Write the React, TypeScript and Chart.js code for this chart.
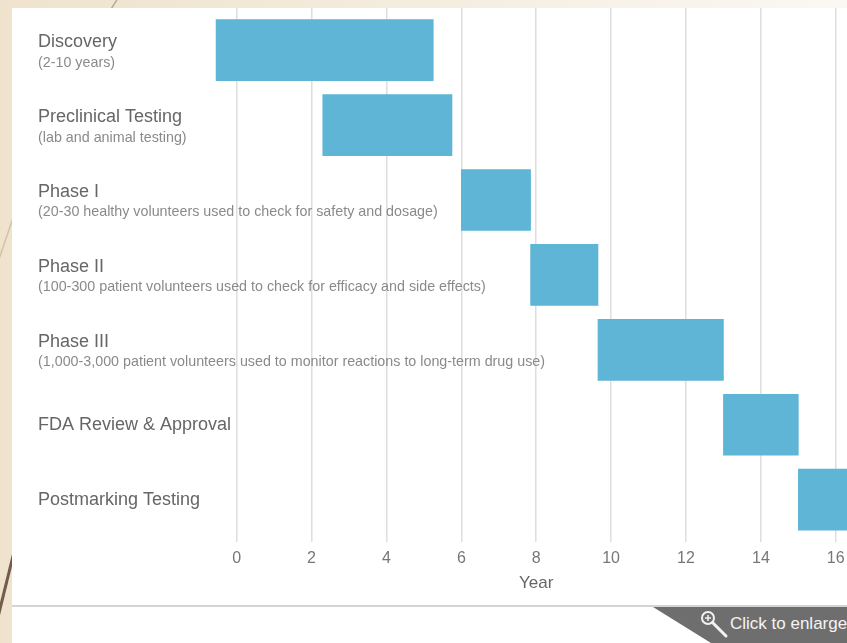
import React, { useEffect, useRef } from "react";
import { Chart, registerables } from "chart.js";

Chart.register(...registerables);

const categories = [
  "Discovery",
  "Preclinical Testing",
  "Phase I",
  "Phase II",
  "Phase III",
  "FDA Review & Approval",
  "Postmarking Testing",
];
const subtitles = [
  "(2-10 years)",
  "(lab and animal testing)",
  "(20-30 healthy volunteers used to check for safety and dosage)",
  "(100-300 patient volunteers used to check for efficacy and side effects)",
  "(1,000-3,000 patient volunteers used to monitor reactions to long-term drug use)",
  "",
  "",
];
const startYears = [-0.55, 2.3, 6.0, 7.85, 9.65, 13.0, 15.0];
const endYears = [5.25, 5.75, 7.85, 9.65, 13.0, 15.0, 17.0];
const xTickValues = [0, 2, 4, 6, 8, 10, 12, 14, 16];
const axisTitle = "Year";

const FONT = '"Liberation Sans", Arial, sans-serif';

const labelPlugin = {
  id: "rowLabels",
  beforeDatasetsDraw(chart: any) {
    const { ctx, chartArea } = chart;
    const y = chart.scales.y;
    ctx.save();
    ctx.textAlign = "left";
    ctx.textBaseline = "middle";
    const x = chartArea.left + 26;
    categories.forEach((c, i) => {
      const yc = y.getPixelForValue(i);
      const sub = subtitles[i];
      ctx.font = `18px ${FONT}`;
      ctx.fillStyle = "#666666";
      if (sub) {
        ctx.fillText(c, x, yc - 8);
        ctx.font = `14.3px ${FONT}`;
        ctx.fillStyle = "#8a8a8a";
        ctx.fillText(sub, x, yc + 12.5);
      } else {
        ctx.fillText(c, x, yc);
      }
    });
    ctx.restore();
  },
  afterDraw(chart: any) {
    const { ctx } = chart;
    const xs = chart.scales.x;
    const first = xs.getPixelForValue(xTickValues[0]);
    const last = xs.getPixelForValue(xTickValues[xTickValues.length - 1]);
    ctx.save();
    ctx.font = `17px ${FONT}`;
    ctx.fillStyle = "#666666";
    ctx.textAlign = "center";
    ctx.textBaseline = "middle";
    ctx.fillText(axisTitle, (first + last) / 2, xs.bottom - 2 - 8.5);
    ctx.restore();
  },
};

function GanttChart() {
  const ref = useRef<HTMLCanvasElement | null>(null);
  useEffect(() => {
    if (!ref.current) return;
    const chart = new Chart(ref.current, {
      type: "bar",
      data: {
        datasets: [
          {
            data: categories.map((c, i) => ({ x: [startYears[i], endYears[i]], y: i })) as any,
            backgroundColor: "#5eb5d6",
            borderWidth: 0,
            borderSkipped: false,
            barThickness: 61,
          },
        ],
      },
      options: {
        indexAxis: "y",
        responsive: false,
        animation: false,
        devicePixelRatio: 1,
        layout: { padding: 0 },
        plugins: {
          legend: { display: false },
          tooltip: { enabled: false },
        },
        scales: {
          y: {
            type: "linear",
            display: false,
            reverse: true,
            offset: false,
            grid: { offset: false },
            min: -0.5625,
            max: 6.5625,
            ticks: { stepSize: 1, includeBounds: false },
          },
          x: {
            type: "linear",
            min: -6,
            max: 16.3,
            afterFit: (scale: any) => {
              scale.paddingLeft = 0;
              scale.paddingRight = 0;
            },
            border: { display: false },
            grid: {
              drawTicks: false,
              lineWidth: 1.5,
              color: (ctx: any) =>
                ctx.tick && xTickValues.includes(ctx.tick.value) ? "#dedede" : "rgba(0,0,0,0)",
            },
            ticks: {
              stepSize: 2,
              includeBounds: false,
              autoSkip: false,
              maxRotation: 0,
              padding: 7,
              color: "#777777",
              font: { family: FONT, size: 16 },
              callback: (v: any) => (xTickValues.includes(Number(v)) ? String(v) : ""),
            },
            title: {
              display: true,
              text: axisTitle,
              color: "rgba(0,0,0,0)",
              font: { family: FONT, size: 17, lineHeight: 1 },
              padding: { top: 0, bottom: 2 },
            },
          },
        },
      } as any,
      plugins: [labelPlugin],
    });
    return () => chart.destroy();
  }, []);
  return (
    <canvas
      ref={ref}
      width={835}
      height={586}
      style={{ position: "absolute", left: 12, top: 8, width: 835, height: 586 }}
    />
  );
}

export default function App() {
  return (
    <div
      style={{
        position: "fixed",
        left: 0,
        top: 0,
        width: 847,
        height: 643,
        overflow: "hidden",
        background: "linear-gradient(to right, #efe3cd, #f3eadb 40%, #fbf8f3)",
      }}
    >
      <svg width={847} height={643} style={{ position: "absolute", left: 0, top: 0 }}>
        <line x1={118} y1={-2} x2={108} y2={14} stroke="#b9ab98" strokeWidth={1.5} />
        <line x1={14} y1={215} x2={-2} y2={262} stroke="#d2c2a8" strokeWidth={1.5} />
        <line x1={14} y1={552} x2={-2} y2={617} stroke="#765a4e" strokeWidth={3} />
      </svg>
      <div
        style={{
          position: "absolute",
          left: 12,
          top: 8,
          width: 835,
          height: 635,
          background: "#ffffff",
        }}
      />
      <GanttChart />
      <div
        style={{
          position: "absolute",
          left: 12,
          top: 605,
          width: 835,
          height: 2,
          background: "#d4d4d4",
        }}
      />
      <div
        style={{
          position: "absolute",
          left: 653,
          top: 607,
          width: 194,
          height: 36,
          background: "#6e6e6e",
          clipPath: "polygon(0 0, 100% 0, 100% 100%, 58px 100%)",
        }}
      />
      <svg width={30} height={30} style={{ position: "absolute", left: 700, top: 610 }}>
        <circle cx={8} cy={8} r={6} fill="none" stroke="#f2f2f2" strokeWidth={2} />
        <line x1={12.5} y1={12.5} x2={26} y2={26} stroke="#f2f2f2" strokeWidth={3} strokeLinecap="round" />
        <line x1={5} y1={8} x2={11} y2={8} stroke="#f2f2f2" strokeWidth={1.5} />
        <line x1={8} y1={5} x2={8} y2={11} stroke="#f2f2f2" strokeWidth={1.5} />
      </svg>
      <span
        style={{
          position: "absolute",
          left: 730,
          top: 614,
          fontFamily: FONT,
          fontSize: 17,
          lineHeight: "20px",
          color: "#f4f4f4",
          whiteSpace: "nowrap",
        }}
      >
        Click to enlarge
      </span>
    </div>
  );
}
